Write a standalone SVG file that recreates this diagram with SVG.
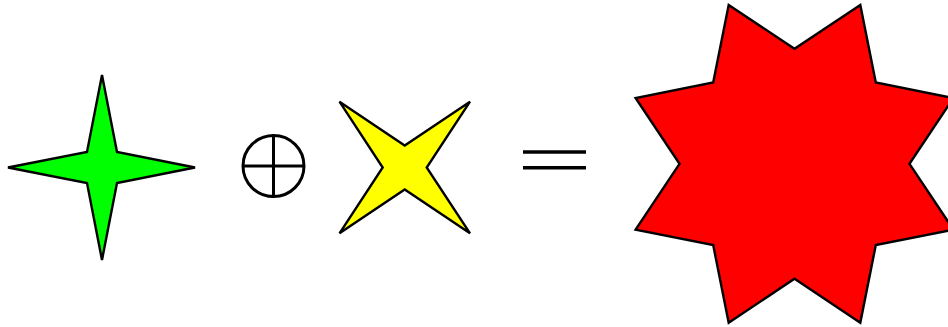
<svg xmlns="http://www.w3.org/2000/svg" width="948" height="327" viewBox="0 0 948 327">
<style>
.shape{stroke:#000;stroke-width:2.4;stroke-linejoin:miter;stroke-miterlimit:4}
.sym{fill:none;stroke:#000;stroke-width:3}
.eq{stroke:#000;stroke-width:3.5}
</style>
<rect width="948" height="327" fill="#fff"/>
<g id="green-star">
<polygon class="shape" fill="#00ff00" points="102,75 117,152 195,167.5 117,183 102,260 87,183 8,167.5 87,152"/>
</g>
<g id="oplus">
<circle class="sym" cx="273.5" cy="166" r="30.5"/>
<line class="sym" x1="243" y1="166" x2="304" y2="166"/>
<line class="sym" x1="273.5" y1="135.5" x2="273.5" y2="196.5"/>
</g>
<g id="yellow-x">
<polygon class="shape" fill="#ffff00" points="339.5,101.7 404.7,145.5 470,101.7 426.7,167.5 470,233.3 404.7,189.5 339.5,233.3 382.7,167.5"/>
</g>
<g id="equals">
<line class="eq" x1="523" y1="152" x2="586" y2="152"/>
<line class="eq" x1="523" y1="167.7" x2="586" y2="167.7"/>
</g>
<g id="red-star">
<polygon class="shape" fill="#ff0000" points="728.7,4.9 794.5,48.8 860.3,4.9 875.8,82.5 953.4,98 909.5,163.8 953.4,229.6 875.8,245.1 860.3,322.7 794.5,278.8 728.7,322.7 713.2,245.1 635.6,229.6 679.5,163.8 635.6,98 713.2,82.5"/>
</g>
</svg>
